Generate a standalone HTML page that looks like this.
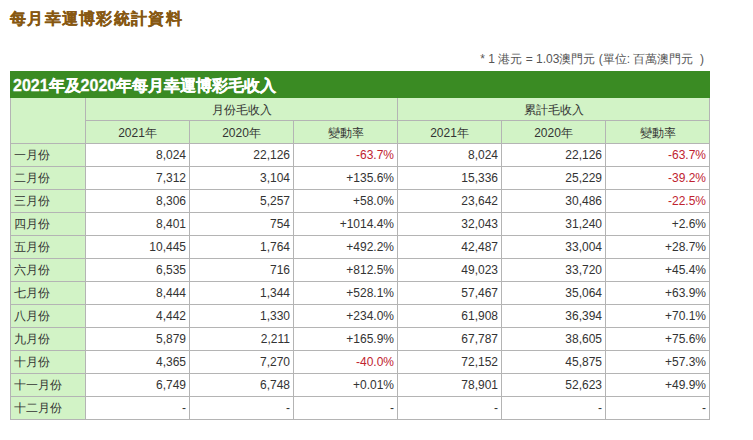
<!DOCTYPE html>
<html lang="zh-Hant"><head><meta charset="utf-8">
<style>
html,body{margin:0;padding:0;background:#fff;}
body{width:753px;height:440px;overflow:hidden;position:relative;font-family:"Liberation Sans",sans-serif;}
.title{position:absolute;left:10px;top:8px;font-size:16px;letter-spacing:1.3px;font-weight:bold;color:#875812;-webkit-text-stroke:0.25px #875812;white-space:nowrap;line-height:22px;}
.note{position:absolute;right:49px;top:52px;font-size:12px;color:#555;white-space:nowrap;line-height:15px;}
.cap{position:absolute;z-index:2;left:10px;top:71px;width:700px;height:27px;background:#3a8b23;color:#fff;font-weight:bold;font-size:16px;line-height:29px;-webkit-text-stroke:0.3px #fff;box-sizing:border-box;padding-left:3px;white-space:nowrap;}
table{position:absolute;left:10px;top:97px;border-collapse:collapse;table-layout:fixed;width:699px;font-size:12px;color:#333;}
td,th{border:1px solid #b4b4b4;height:23px;padding:0 3px;box-sizing:border-box;font-weight:normal;white-space:nowrap;}
th{background:#d2f3c6;}
thead th{text-align:center;padding-top:2px;}
tbody th{text-align:left;padding-left:3px;}
td{text-align:right;background:#fff;}
td.neg{color:#c0232f;}
</style></head><body>
<div class="title">每月幸運博彩統計資料</div>
<div class="note">* 1 港元 = 1.03澳門元 (單位: 百萬澳門元&nbsp; )</div>
<div class="cap">2021年及2020年每月幸運博彩毛收入</div>
<table>
<colgroup><col style="width:75px"><col style="width:104px"><col style="width:104px"><col style="width:104px"><col style="width:104px"><col style="width:104px"><col style="width:104px"></colgroup>
<thead>
<tr><th rowspan="2"></th><th colspan="3">月份毛收入</th><th colspan="3">累計毛收入</th></tr>
<tr><th>2021年</th><th>2020年</th><th>變動率</th><th>2021年</th><th>2020年</th><th>變動率</th></tr>
</thead>
<tbody>
<tr><th>一月份</th><td>8,024</td><td>22,126</td><td class="neg">-63.7%</td><td>8,024</td><td>22,126</td><td class="neg">-63.7%</td></tr>
<tr><th>二月份</th><td>7,312</td><td>3,104</td><td>+135.6%</td><td>15,336</td><td>25,229</td><td class="neg">-39.2%</td></tr>
<tr><th>三月份</th><td>8,306</td><td>5,257</td><td>+58.0%</td><td>23,642</td><td>30,486</td><td class="neg">-22.5%</td></tr>
<tr><th>四月份</th><td>8,401</td><td>754</td><td>+1014.4%</td><td>32,043</td><td>31,240</td><td>+2.6%</td></tr>
<tr><th>五月份</th><td>10,445</td><td>1,764</td><td>+492.2%</td><td>42,487</td><td>33,004</td><td>+28.7%</td></tr>
<tr><th>六月份</th><td>6,535</td><td>716</td><td>+812.5%</td><td>49,023</td><td>33,720</td><td>+45.4%</td></tr>
<tr><th>七月份</th><td>8,444</td><td>1,344</td><td>+528.1%</td><td>57,467</td><td>35,064</td><td>+63.9%</td></tr>
<tr><th>八月份</th><td>4,442</td><td>1,330</td><td>+234.0%</td><td>61,908</td><td>36,394</td><td>+70.1%</td></tr>
<tr><th>九月份</th><td>5,879</td><td>2,211</td><td>+165.9%</td><td>67,787</td><td>38,605</td><td>+75.6%</td></tr>
<tr><th>十月份</th><td>4,365</td><td>7,270</td><td class="neg">-40.0%</td><td>72,152</td><td>45,875</td><td>+57.3%</td></tr>
<tr><th>十一月份</th><td>6,749</td><td>6,748</td><td>+0.01%</td><td>78,901</td><td>52,623</td><td>+49.9%</td></tr>
<tr><th>十二月份</th><td>-</td><td>-</td><td>-</td><td>-</td><td>-</td><td>-</td></tr>
</tbody>
</table>
</body></html>
